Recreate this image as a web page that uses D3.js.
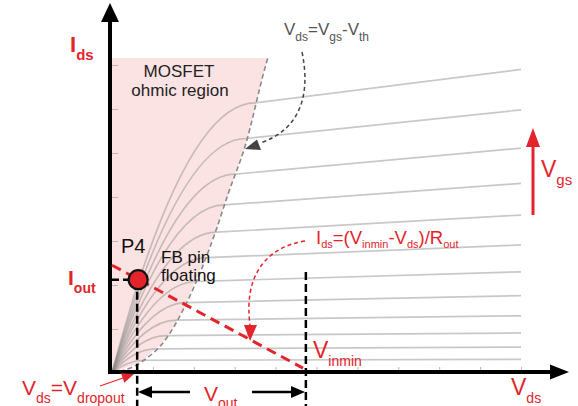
<!DOCTYPE html>
<html>
<head>
<meta charset="utf-8">
<script src="https://cdn.jsdelivr.net/npm/d3@7"></script>
<style>
  body { margin: 0; background: #fff; }
  text { font-family: "Liberation Sans", Arial, Helvetica, sans-serif; }
</style>
</head>
<body>
<div id="chart-area"></div>
<script>
const W = 578, H = 406
const RED = "#e3242b"

// Axis ticks (data units)
const xTicks = [1, 2, 3, 4, 5, 6, 7, 8, 9, 10]
const yTicks = [1, 2, 3, 4, 5, 6, 7]

// Output characteristic curves, one per Vgs step
const kneeVds = [3.50, 3.28, 3.02, 2.75, 2.56, 2.32, 2.07, 1.82, 1.58, 1.33, 1.07, 0.78]
const kneeIds = [6.14, 5.33, 4.52, 3.82, 3.20, 2.62, 2.08, 1.60, 1.20, 0.85, 0.55, 0.29]
const endIds  = [6.90, 5.98, 5.11, 4.31, 3.59, 2.91, 2.30, 1.76, 1.30, 0.91, 0.59, 0.31]
const endVds = 10

// Vds = Vgs - Vth boundary
const boundaryVds = [0, 0.72, 1.34, 1.78, 2.52, 2.85, 3.25, 3.76, 3.81]
const boundaryIds = [0, 0.25, 0.80, 1.51, 3.18, 4.10, 5.14, 7.00, 7.16]
const ohmicTop = 7.16

// Load line and operating point
const loadVds = [0, 4.67]
const loadIds = [2.45, 0.11]
const p4 = { vds: 0.64, ids: 2.12 }
const vinmin = 4.74

const svg = d3.select("#chart-area").append("svg")
    .attr("width", W)
    .attr("height", H)

// Scales
const x = d3.scaleLinear().domain([0, 10]).range([112, 521])
const y = d3.scaleLinear().domain([0, 7]).range([373, 65])

// Ohmic region shading
const region = boundaryVds.map((v, i) => [v, boundaryIds[i]])
region.push([0, ohmicTop])
svg.append("path")
    .attr("d", d3.line().x(d => x(d[0])).y(d => y(d[1]))(region))
    .attr("fill", "#fce3e3")

// Curves: parabolic ohmic part up to the knee, then slightly rising line
kneeVds.forEach((kv, i) => {
    const p = d3.path()
    p.moveTo(x(0), y(0))
    p.quadraticCurveTo(x(kv / 2), y(kneeIds[i]), x(kv), y(kneeIds[i]))
    p.lineTo(x(endVds), y(endIds[i]))
    svg.append("path")
        .attr("d", p.toString())
        .attr("fill", "none")
        .attr("stroke", "rgba(140,140,140,0.48)")
        .attr("stroke-width", 1.7)
})

// Boundary dashed curve
svg.append("path")
    .attr("d", d3.line().x(d => x(d[0])).y(d => y(d[1])).curve(d3.curveMonotoneX)(region.slice(0, -1)))
    .attr("fill", "none")
    .attr("stroke", "#8a8a8a")
    .attr("stroke-width", 1.6)
    .attr("stroke-dasharray", "5,3")

// Ticks
svg.append("g")
    .attr("transform", `translate(${x(0)},0)`)
    .call(d3.axisLeft(y).tickValues(yTicks).tickSize(-6).tickFormat(""))
    .call(g => g.select(".domain").remove())
    .call(g => g.selectAll("line").attr("stroke", "#b8b8b8"))
svg.append("g")
    .attr("transform", `translate(0,${y(0) - 1})`)
    .call(d3.axisBottom(x).tickValues(xTicks).tickSize(-5).tickFormat(""))
    .call(g => g.select(".domain").remove())
    .call(g => g.selectAll("line").attr("stroke", "#b8b8b8"))

// Axes with arrows
svg.append("line")
    .attr("x1", 110).attr("x2", 110).attr("y1", 374).attr("y2", 18)
    .attr("stroke", "#000").attr("stroke-width", 4)
svg.append("path").attr("d", "M110,3 L101,22 L119,22 Z").attr("fill", "#000")
svg.append("line")
    .attr("x1", 108).attr("x2", 552).attr("y1", 372).attr("y2", 372)
    .attr("stroke", "#000").attr("stroke-width", 4)
svg.append("path").attr("d", "M569,372 L550,364.5 L550,379.5 Z").attr("fill", "#000")

// Load line
svg.append("line")
    .attr("x1", x(loadVds[0])).attr("y1", y(loadIds[0]))
    .attr("x2", x(loadVds[1])).attr("y2", y(loadIds[1]))
    .attr("stroke", RED).attr("stroke-width", 3)
    .attr("stroke-dasharray", "10,6")

// Black dashed guides
svg.append("line")
    .attr("x1", x(0)).attr("x2", x(p4.vds)).attr("y1", y(p4.ids)).attr("y2", y(p4.ids))
    .attr("stroke", "#000").attr("stroke-width", 2.5).attr("stroke-dasharray", "7,4")
svg.append("line")
    .attr("x1", x(p4.vds) - 1).attr("x2", x(p4.vds) - 1).attr("y1", y(p4.ids)).attr("y2", H)
    .attr("stroke", "#000").attr("stroke-width", 2.5).attr("stroke-dasharray", "8,4")
svg.append("line")
    .attr("x1", x(vinmin)).attr("x2", x(vinmin)).attr("y1", 272).attr("y2", H)
    .attr("stroke", "#000").attr("stroke-width", 2.5).attr("stroke-dasharray", "8,4")

// P4 point
svg.append("circle")
    .attr("cx", x(p4.vds)).attr("cy", y(p4.ids)).attr("r", 9.5)
    .attr("fill", RED).attr("stroke", "#111").attr("stroke-width", 2.2)

// Vout dimension arrow
svg.append("line").attr("x1", 150).attr("x2", 190).attr("y1", 392).attr("y2", 392)
    .attr("stroke", "#000").attr("stroke-width", 2.5)
svg.append("line").attr("x1", 252).attr("x2", 293).attr("y1", 392).attr("y2", 392)
    .attr("stroke", "#000").attr("stroke-width", 2.5)
svg.append("path").attr("d", "M138,392 L152,386 L152,398 Z").attr("fill", "#000")
svg.append("path").attr("d", "M305,392 L291,386 L291,398 Z").attr("fill", "#000")

// Vgs arrow
svg.append("line").attr("x1", 533).attr("x2", 533).attr("y1", 215).attr("y2", 145)
    .attr("stroke", RED).attr("stroke-width", 3)
svg.append("path").attr("d", "M533,128 L526,147 L540,147 Z").attr("fill", RED)

// Vdropout pointer
svg.append("line").attr("x1", 100).attr("y1", 386).attr("x2", 123).attr("y2", 378)
    .attr("stroke", RED).attr("stroke-width", 1.2)
svg.append("path").attr("d", "M134,374 L124.4,382.7 L121,373.3 Z").attr("fill", RED)

// Curved pointer to the boundary
svg.append("path").attr("d", "M302,52 C311,95 300,130 260,143")
    .attr("fill", "none").attr("stroke", "#444").attr("stroke-width", 1.5)
    .attr("stroke-dasharray", "4,3")
svg.append("path").attr("d", "M245,149 L257,139.5 L261,150 Z").attr("fill", "#444")

// Curved pointer to the load line
svg.append("path").attr("d", "M305,241 C262,248 244,280 250,325")
    .attr("fill", "none").attr("stroke", RED).attr("stroke-width", 1.5)
    .attr("stroke-dasharray", "4,3")
svg.append("path").attr("d", "M250,341 L244,325 L257,325 Z").attr("fill", RED)

// Text with subscripts
function label(px, py, parts, size, subSize, shift, color, weight) {
    const t = svg.append("text")
        .attr("x", px).attr("y", py)
        .attr("fill", color)
        .attr("font-size", size)
        .attr("font-weight", weight || "normal")
    let down = false
    parts.forEach(([s, sub]) => {
        const ts = t.append("tspan").text(s)
        if (sub) {
            ts.attr("font-size", subSize)
            if (!down) ts.attr("dy", shift)
            down = true
        } else {
            if (down) ts.attr("dy", -shift)
            down = false
        }
    })
    return t
}

label(70, 52, [["I"], ["ds", 1]], 22, 15, 8, RED, "bold")
label(68, 285, [["I"], ["out", 1]], 21, 14, 7.5, RED, "bold")
label(284, 35, [["V"], ["ds", 1], ["=V"], ["gs", 1], ["-V"], ["th", 1]], 17, 12, 6, "#555")
label(541, 177, [["V"], ["gs", 1]], 23, 15, 8, RED)
label(316, 244, [["I"], ["ds", 1], ["=(V"], ["inmin", 1], ["-V"], ["ds", 1], [")/R"], ["out", 1]], 18.5, 11, 3.5, RED)
label(313, 358, [["V"], ["inmin", 1]], 23, 14, 8, RED)
label(511, 395, [["V"], ["ds", 1]], 23, 14, 8, RED)
label(22, 395, [["V"], ["ds", 1], ["=V"], ["dropout", 1]], 21, 14, 8, RED)
label(204, 401, [["V"], ["out", 1]], 21, 14, 7, RED)

svg.append("text").attr("x", 179).attr("y", 77).attr("text-anchor", "middle")
    .attr("font-size", 17).attr("fill", "#222").text("MOSFET")
svg.append("text").attr("x", 180).attr("y", 95.5).attr("text-anchor", "middle")
    .attr("font-size", 17).attr("fill", "#222").text("ohmic region")
svg.append("text").attr("x", 121).attr("y", 252.5)
    .attr("font-size", 20).attr("fill", "#111").text("P4")
svg.append("text").attr("x", 161).attr("y", 262.5)
    .attr("font-size", 17).attr("fill", "#111").text("FB pin")
svg.append("text").attr("x", 161).attr("y", 281)
    .attr("font-size", 17).attr("fill", "#111").text("floating")
</script>
</body>
</html>
